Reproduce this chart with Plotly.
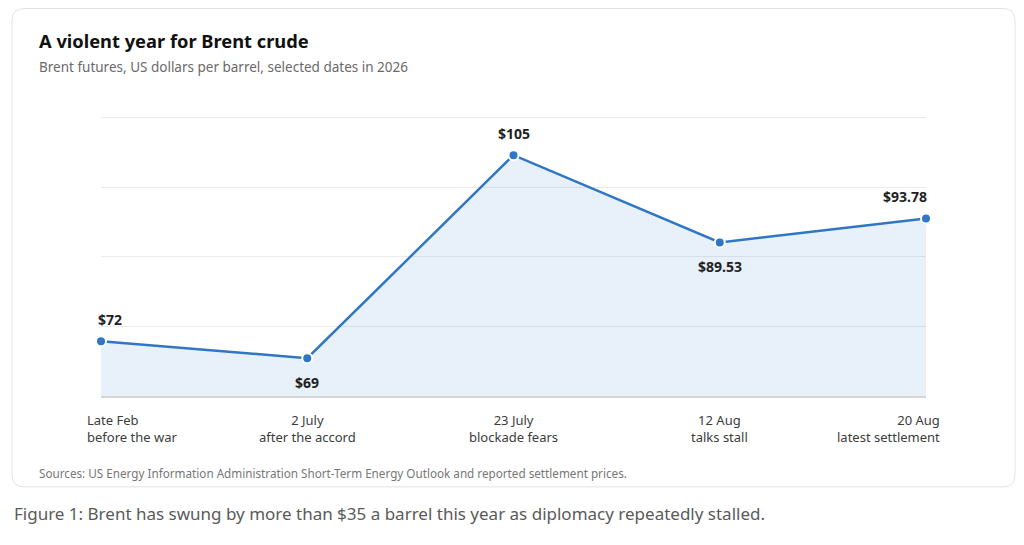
import plotly.graph_objects as go

# chart values
dates = ["Late Feb", "2 July", "23 July", "12 Aug", "20 Aug"]
notes = ["before the war", "after the accord", "blockade fears", "talks stall", "latest settlement"]
prices = [72, 69, 105, 89.53, 93.78]
price_labels = ["$72", "$69", "$105", "$89.53", "$93.78"]
label_side = ["above", "below", "above", "below", "above"]

# page has an 8px body margin, so the figure is drawn 8px in from the corner
OFF = 8
Y_LO, Y_HI = 62.3, 111.7
EXT = 0.6  # a little headroom so the top gridline is still drawn
W, H = 1024 - OFF, 545 - OFF
L, R, B = 101 - OFF, 1024 - 926, 545 - 396
T = 117 - OFF - EXT * (396 - 117) / (Y_HI - Y_LO)
PW, PH = W - L - R, H - T - B

FONT = "Noto Sans"
LINE = "#2f76c5"


def px(x, y):
    # screen pixel -> paper coords
    return (x - OFF - L) / PW, (H - B - (y - OFF)) / PH


def card_path(x0, y0, x1, y1, r):
    ax0, ay0 = px(x0, y0)
    ax1, ay1 = px(x1, y1)
    rx, ry = r / PW, r / PH
    return (f"M {ax0 + rx},{ay0} L {ax1 - rx},{ay0} Q {ax1},{ay0} {ax1},{ay0 - ry} "
            f"L {ax1},{ay1 + ry} Q {ax1},{ay1} {ax1 - rx},{ay1} "
            f"L {ax0 + rx},{ay1} Q {ax0},{ay1} {ax0},{ay1 + ry} "
            f"L {ax0},{ay0 - ry} Q {ax0},{ay0} {ax0 + rx},{ay0} Z")


xs = list(range(len(dates)))

fig = go.Figure()
fig.add_trace(go.Scatter(
    x=xs, y=prices, mode="lines+markers", fill="tozeroy",
    fillcolor="rgba(47,118,197,0.11)",
    line=dict(color=LINE, width=2.5),
    marker=dict(size=10, color=LINE, line=dict(color="white", width=2)),
    hoverinfo="skip", cliponaxis=False,
))

annotations = []
last = len(xs) - 1
for i, (x, y, lab, side) in enumerate(zip(xs, prices, price_labels, label_side)):
    anchor = "left" if i == 0 else ("right" if i == last else "center")
    xshift = -5 if i == 0 else (3 if i == last else 0)
    annotations.append(dict(
        x=x, y=y, xref="x", yref="y", text=f"<b>{lab}</b>", showarrow=False,
        xanchor=anchor, yanchor="middle", xshift=xshift,
        yshift=22 if side == "above" else -24,
        font=dict(family=FONT, size=14, color="#1f1f1f"),
    ))
    annotations.append(dict(
        x=x, y=0, xref="x", yref="paper", text=f"{dates[i]}<br>{notes[i]}",
        showarrow=False, xanchor=anchor, yanchor="top", align=anchor,
        xshift=-16 if i == 0 else (16 if i == last else 0), yshift=-13,
        font=dict(family=FONT, size=13, color="#3c3c3c"),
    ))

texts = [
    (37, 40, "<b>A violent year for Brent crude</b>", 18.3, "#111111"),
    (37, 67, "Brent futures, US dollars per barrel, selected dates in 2026", 13.5, "#6a6a6a"),
    (37, 473, "Sources: US Energy Information Administration Short-Term Energy Outlook and reported settlement prices.", 11.7, "#777777"),
    (12, 514, "Figure 1: Brent has swung by more than $35 a barrel this year as diplomacy repeatedly stalled.", 17, "#5a5a5a"),
]
for tx, ty, t, size, color in texts:
    ax, ay = px(tx, ty)
    annotations.append(dict(
        x=ax, y=ay, xref="paper", yref="paper", text=t, showarrow=False,
        xanchor="left", yanchor="middle", font=dict(family=FONT, size=size, color=color),
    ))

fig.update_layout(
    width=W, height=H, margin=dict(l=L, r=R, t=T, b=B),
    paper_bgcolor="white", plot_bgcolor="white", showlegend=False,
    font=dict(family=FONT),
    annotations=annotations,
    shapes=[dict(type="path", xref="paper", yref="paper", path=card_path(12, 8, 1015, 487, 12),
                 line=dict(color="#e3e3e3", width=1), fillcolor="rgba(0,0,0,0)", layer="below")],
    xaxis=dict(range=[0, last], showgrid=False, zeroline=False, showticklabels=False,
               showline=True, linecolor="#d4d4d4", linewidth=1.5, fixedrange=True),
    yaxis=dict(range=[Y_LO, Y_HI + EXT], tick0=Y_LO, dtick=(Y_HI - Y_LO) / 4, showgrid=True,
               gridcolor="#ebebeb", gridwidth=1, zeroline=False, showticklabels=False,
               showline=False, fixedrange=True),
)

fig.write_html("out.html", config={"displayModeBar": False})
